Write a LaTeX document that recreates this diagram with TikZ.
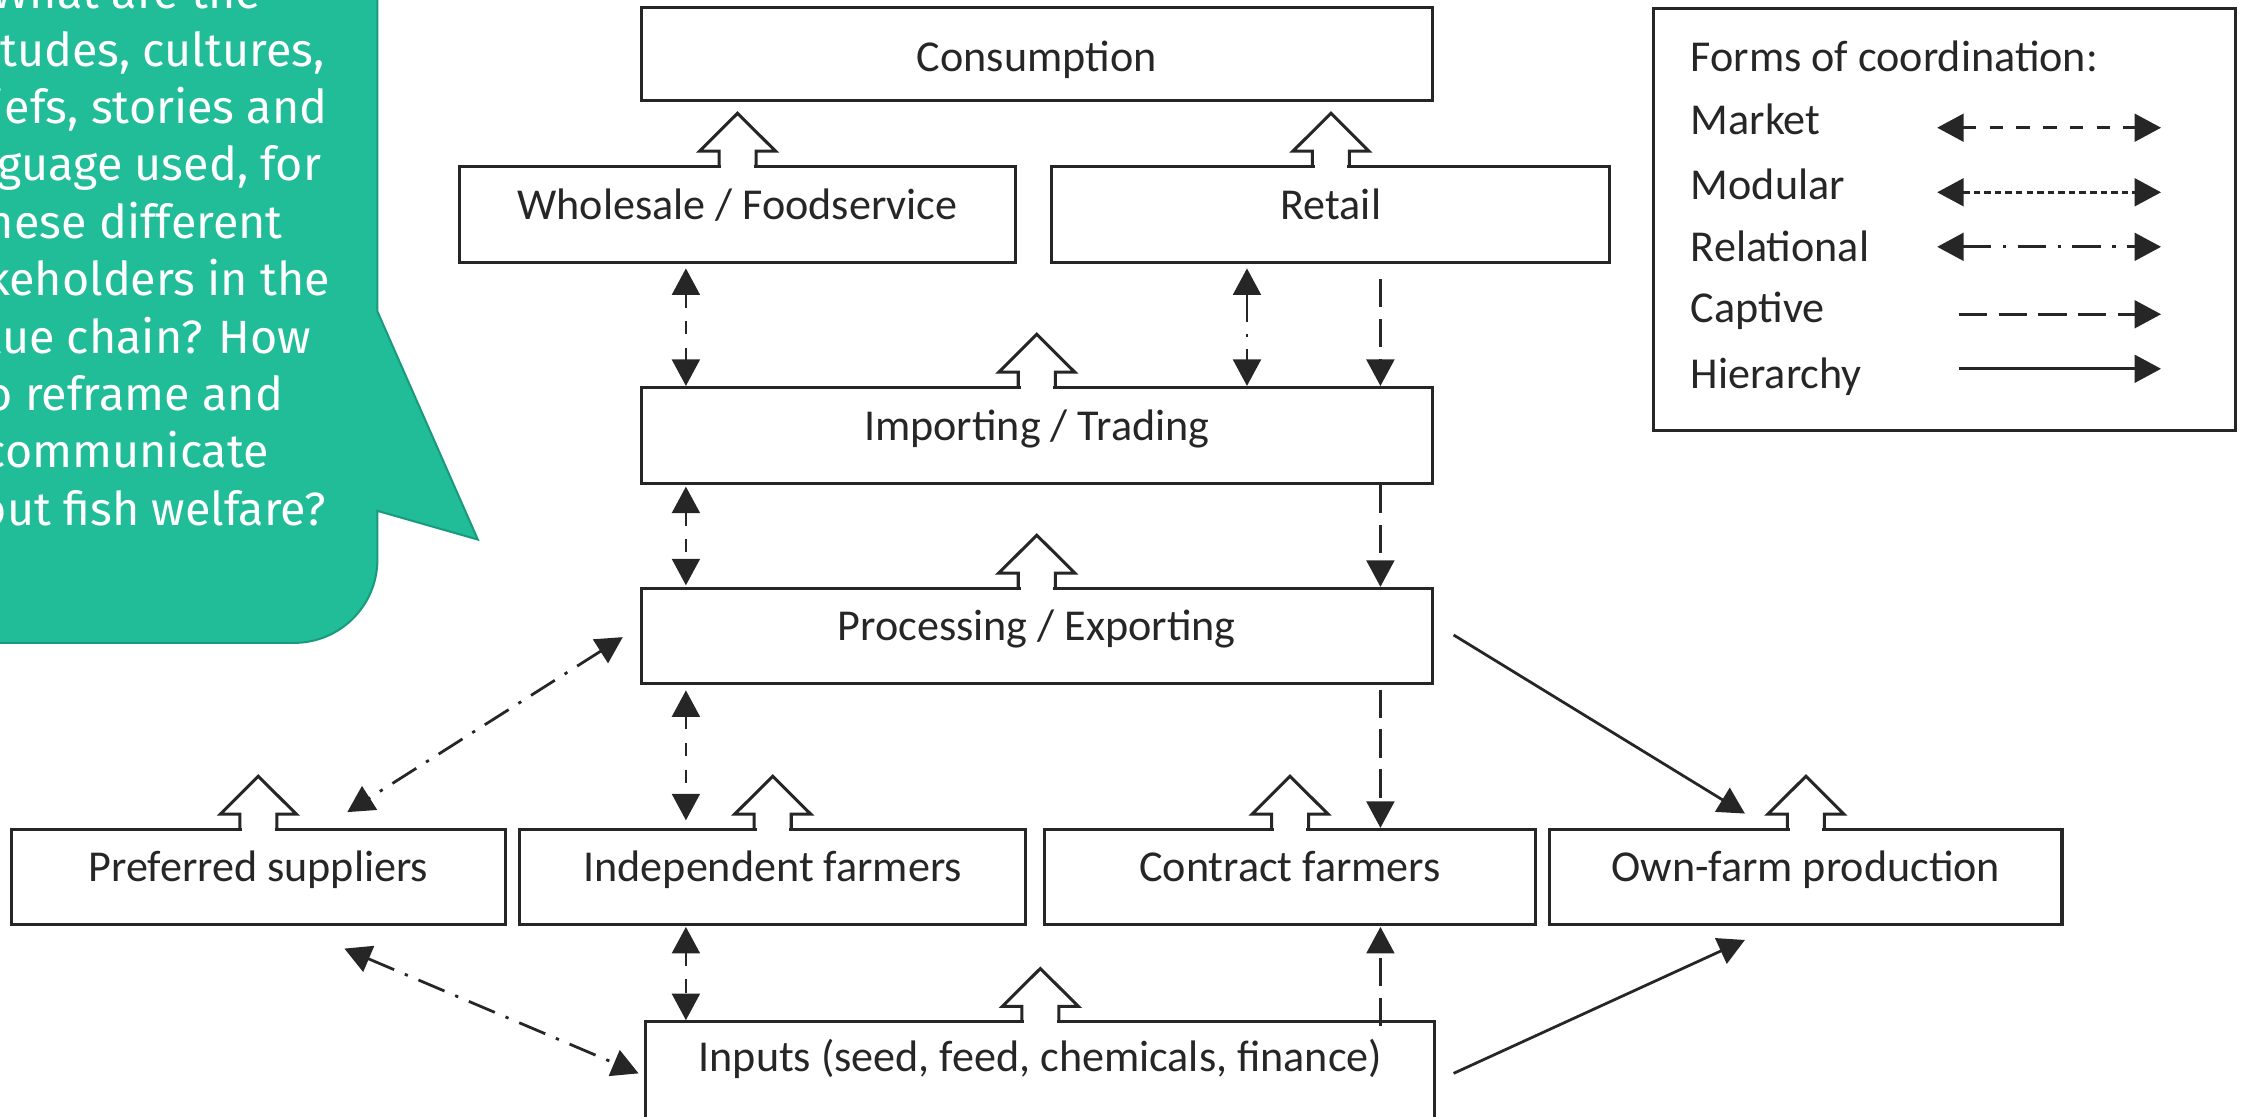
\documentclass[tikz,border=0pt]{standalone}
\usepackage{fontspec}
\setmainfont{Carlito}
\newfontfamily\bubblefont{Fira Sans}
\usetikzlibrary{arrows.meta,calc}
\definecolor{bubblegreen}{HTML}{21BD98}
\definecolor{bubbleedge}{HTML}{1A9A7C}
\definecolor{ink}{HTML}{262626}
\tikzset{
  >={Triangle[length=10.5pt,width=11pt]},
  boxline/.style={draw=ink, line width=1.2pt, line join=miter},
  box/.style={boxline, rectangle, inner sep=0pt, text=ink,
    font=\fontsize{17.5}{20}\selectfont, text height=0.30cm, text depth=0.16cm},
  conn/.style={draw=ink, line width=1.1pt},
  market/.style={conn, dash pattern=on 5.3pt off 5.3pt, <->},
  modular/.style={conn, dash pattern=on 2.6pt off 1.6pt, <->},
  relational/.style={conn, dash pattern=on 11.2pt off 4.6pt on 1.3pt off 4.6pt, <->},
  captive/.style={conn, dash pattern=on 11.2pt off 4.6pt, ->},
  hierarchy/.style={conn, ->},
  legtext/.style={anchor=base west, inner sep=0pt, text=ink, font=\fontsize{17.5}{20}\selectfont},
  bubbletext/.style={anchor=base, inner sep=0pt, text=white, font=\bubblefont\fontsize{18.5}{22}\selectfont},
  pics/uparrow/.style={code={
    \fill[white] (-11.3,3) rectangle (11.3,-3);
    \draw[boxline] (-12.9,0) -- (-12.9,-9.6) -- (-26.5,-9.6) -- (0,-36) -- (26.5,-9.6) -- (12.9,-9.6) -- (12.9,0);
  }}
}
\begin{document}
\begin{tikzpicture}[x=0.02cm,y=-0.02cm]
\useasboundingbox (0,0) rectangle (1568,778);
\clip (0,0) rectangle (1568,778);
\fill[white] (0,0) rectangle (1568,778);

% speech bubble
\path[fill=bubblegreen, draw=bubbleedge, line width=0.8pt]
  (-200,-60) -- (263,-60) -- (263,217) -- (333,376) -- (263,356) -- (263,390)
  arc[start angle=0, end angle=90, radius=58] -- (-200,448) -- cycle;
\node[bubbletext] (q0) at (88,6) {What are the};
\node[bubbletext] (q1) at (88,46) {attitudes, cultures,};
\node[bubbletext] (q2) at (88,86) {beliefs, stories and};
\node[bubbletext] (q3) at (88,126) {language used, for};
\node[bubbletext] (q4) at (88,166) {these different};
\node[bubbletext] (q5) at (88,206) {stakeholders in the};
\node[bubbletext] (q6) at (88,246) {value chain? How};
\node[bubbletext] (q7) at (88,286) {to reframe and};
\node[bubbletext] (q8) at (88,326) {communicate};
\node[bubbletext] (q9) at (88,366) {about fish welfare?};

% boxes
\node[box, minimum width=11.02cm, minimum height=1.30cm, text height=0.6cm, text depth=0.1cm] (cons) at (722.5,37.5) {Consumption};
\node[box, minimum width=7.76cm, minimum height=1.34cm] (ws) at (514,149.5) {Wholesale / Foodservice};
\node[box, minimum width=7.78cm, minimum height=1.34cm] (ret) at (927.5,149.5) {Retail};
\node[box, minimum width=11.02cm, minimum height=1.34cm] (imp) at (722.5,303.5) {Importing / Trading};
\node[box, minimum width=11.02cm, minimum height=1.32cm] (proc) at (722.5,443) {Processing / Exporting};
\node[box, minimum width=6.88cm, minimum height=1.32cm] (pref) at (180,611) {Preferred suppliers};
\node[box, minimum width=7.06cm, minimum height=1.32cm] (ind) at (538.5,611) {Independent farmers};
\node[box, minimum width=6.84cm, minimum height=1.32cm] (con) at (899,611) {Contract farmers};
\node[box, minimum width=7.14cm, minimum height=1.32cm] (own) at (1258.5,611) {Own-farm production};
\node[box, minimum width=11.0cm, minimum height=1.52cm, text height=0.2cm, text depth=0.32cm] (inp) at (725,750) {Inputs (seed, feed, chemicals, finance)};

% hollow block arrows
\pic at (ws.north) {uparrow};
\pic at (ret.north) {uparrow};
\pic at (imp.north) {uparrow};
\pic at (proc.north) {uparrow};
\pic at (pref.north) {uparrow};
\pic at (ind.north) {uparrow};
\pic at (con.north) {uparrow};
\pic at (own.north) {uparrow};
\pic at (inp.north) {uparrow};

% connector columns
\coordinate (xa) at (478,0);
\coordinate (xb) at (869,0);
\coordinate (xc) at (962,0);

\draw[market, shorten <=1.7pt] (ws.south -| xa) -- (imp.north -| xa);
\draw[relational, shorten <=1.7pt] (ret.south -| xb) -- (imp.north -| xb);
\draw[captive, shorten <=6pt] (ret.south -| xc) -- (imp.north -| xc);
\draw[market, shorten <=0.6pt, shorten >=0.6pt] (imp.south -| xa) -- (proc.north -| xa);
\draw[captive] (imp.south -| xc) -- (proc.north -| xc);
\draw[market, shorten <=2.3pt, shorten >=3pt] (proc.south -| xa) -- (ind.north -| xa);
\draw[captive, shorten <=2pt] (proc.south -| xc) -- (con.north -| xc);
\draw[market, shorten <=0.5pt] (ind.south -| xa) -- (inp.north -| xa);
\draw[captive, shorten >=0.5pt] ($(inp.north -| xc)+(0,4)$) -- (con.south -| xc);

\draw[relational] ($(proc.west)+(-12,1)$) -- ($(pref.north)+(62,-11)$);
\draw[relational] ($(pref.south)+(60,16)$) -- ($(inp.west)+(-4,-2)$);
\draw[hierarchy] ($(proc.east)+(14,-0.5)$) -- ($(own.north)+(-42.5,-10)$);
\draw[hierarchy] ($(inp.east)+(12,-2)$) -- ($(own.south)+(-42.5,10)$);

% legend
\node[boxline, rectangle, inner sep=0pt, minimum width=8.12cm, minimum height=5.88cm] (lg) at (1355,153) {};
\node[legtext] (lf) at (1178,50) {Forms of coordination:};
\node[legtext] (lm) at (1178,94) {Market};
\node[legtext] (lo) at (1178,139) {Modular};
\node[legtext] (lr) at (1178,182) {Relational};
\node[legtext] (lc) at (1178,225) {Captive};
\node[legtext] (lh) at (1178,271) {Hierarchy};
\coordinate (mA) at (1350,89);  \coordinate (mB) at (1506,89);
\coordinate (oA) at (1350,134); \coordinate (oB) at (1506,134);
\coordinate (rA) at (1350,172); \coordinate (rB) at (1506,172);
\coordinate (cA) at (1365,219); \coordinate (cB) at (1506,219);
\coordinate (hA) at (1365,257); \coordinate (hB) at (1506,257);
\draw[market] (mA) -- (mB);
\draw[modular] (oA) -- (oB);
\draw[relational] (rA) -- (rB);
\draw[captive] (cA) -- (cB);
\draw[hierarchy] (hA) -- (hB);
\end{tikzpicture}
\end{document}
